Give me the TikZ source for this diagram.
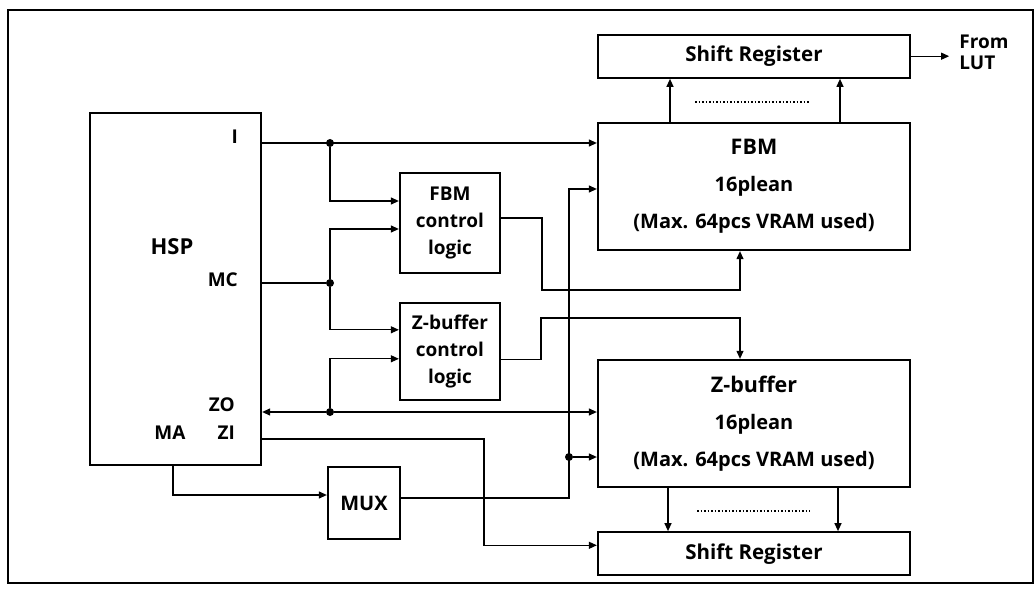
\documentclass[tikz,border=0pt]{standalone}
\usepackage{fontspec}
\setmainfont{Open Sans}
\usetikzlibrary{arrows.meta,positioning,calc}
\tikzset{
  block/.style={draw, line width=2.3pt, align=center, inner sep=0pt},
  memory/.style={block, minimum width=312pt, minimum height=127pt, font=\fontsize{20}{37}\selectfont\bfseries},
  shiftreg/.style={block, minimum width=312pt, minimum height=43pt, font=\fontsize{20.5}{24}\selectfont\bfseries},
  ctrl/.style={block, minimum width=100pt, font=\fontsize{19}{27}\selectfont\bfseries},
  wire/.style={line width=1.2pt},
  arrow/.style={wire, -{Triangle[length=8pt,width=7pt]}},
  junction/.style={circle, fill, inner sep=0pt, minimum size=8pt},
  port/.style={anchor=east, inner sep=0pt},
  dots/.style={dotted, line width=1.5pt}
}
\begin{document}
\begin{tikzpicture}[x=1pt, y=-1pt, node distance=43pt and 28pt, font=\fontsize{19}{37}\selectfont\bfseries]
  \useasboundingbox (0,0) rectangle (1036,596);
  \draw[line width=2pt] (8,10) rectangle (1033,583);

  \node[block, minimum width=171pt, minimum height=352pt] (hsp) at (175.5,289) {};
  \node[font=\fontsize{22}{26}\selectfont\bfseries] (hsplabel) at (172,247) {HSP};
  \node[port] (li) at (238,137) {I};
  \node[port] (lmc) at (238,280) {MC};
  \node[port] (lzo) at (235,405) {ZO};
  \node[port] (lzi) at (235,433) {ZI};
  \node (lma) at (170,433) {MA};

  \node[ctrl, minimum height=100pt] (fbmctl) at (450,223) {FBM\\control\\logic};
  \node[ctrl, minimum height=97pt, below=28pt of fbmctl] (zctl) {Z-buffer\\control\\logic};
  \node[block, minimum width=72pt, minimum height=72pt, font=\fontsize{20}{24}\selectfont\bfseries] (mux) at (364,503) {MUX};

  \node[memory] (fbm) at (754,186.5) {\fontsize{21.5}{37}\selectfont FBM\\16plean\\(Max. 64pcs VRAM used)};
  \node[shiftreg, above=of fbm] (srtop) {Shift Register};
  \node[memory] (zbuf) at (754,423.5) {\fontsize{21.5}{37}\selectfont Z-buffer\\16plean\\(Max. 64pcs VRAM used)};
  \node[shiftreg, below=of zbuf] (srbot) {Shift Register};

  \node[junction] (ji) at (330,143) {};
  \node[junction] (jmc) at (330,283) {};
  \node[junction] (jzo) at (330,412) {};
  \node[junction] (jmux) at (569,457) {};
  \coordinate (zi) at (484,439);
  \coordinate (ma) at (173,495);
  \coordinate (mx) at (569,498);
  \coordinate (fo) at (542,290);
  \coordinate (zo) at (541,318);

  \draw[arrow] (hsp.east |- ji) -- (fbm.west |- ji);
  \draw[arrow] (ji) |- ([yshift=22pt]fbmctl.west);
  \draw[wire] (hsp.east |- jmc) -- (jmc);
  \draw[arrow] (jmc) |- ([yshift=-6pt]fbmctl.west);
  \draw[arrow] (jmc) |- ([yshift=22pt]zctl.west);
  \draw[arrow] (jzo) -- (hsp.east |- jzo);
  \draw[arrow] (jzo) -- (zbuf.west |- jzo);
  \draw[arrow] (jzo) |- ([yshift=-7pt]zctl.west);
  \draw[arrow] (hsp.east |- zi) -- (zi) |- ([yshift=8.5pt]srbot.west);
  \draw[arrow] (hsp.south -| ma) |- (mux.west |- ma);
  \draw[arrow] (mux.east |- mx) -- (mx) |- ([yshift=-2.5pt]fbm.west);
  \draw[arrow] (jmux) -- (zbuf.west |- jmux);
  \draw[arrow] ([yshift=5pt]fbmctl.east) -| (fo) -| ([xshift=-14pt]fbm.south);
  \draw[arrow] ([yshift=-7.5pt]zctl.east) -| (zo) -| ([xshift=-14pt]zbuf.north);

  \draw[arrow] ([xshift=-84pt]fbm.north) -- ([xshift=-84pt]srtop.south);
  \draw[arrow] ([xshift=86pt]fbm.north) -- ([xshift=86pt]srtop.south);
  \draw[dots] ([xshift=-59pt,yshift=20pt]fbm.north) -- ([xshift=56pt,yshift=20pt]fbm.north);
  \draw[arrow] ([xshift=-86pt]zbuf.south) -- ([xshift=-86pt]srbot.north);
  \draw[arrow] ([xshift=84pt]zbuf.south) -- ([xshift=84pt]srbot.north);
  \draw[dots] ([xshift=-57pt,yshift=-23pt]zbuf.south) -- ([xshift=56pt,yshift=-23pt]zbuf.south);

  \coordinate (lutend) at ([xshift=38pt]srtop.east);
  \draw[arrow] (srtop.east) -- (lutend);
  \node[anchor=west, align=left, inner sep=0pt, font=\fontsize{19}{21}\selectfont\bfseries] (lut) at ([xshift=10pt,yshift=4pt]lutend) {From\\LUT};
\end{tikzpicture}
\end{document}
